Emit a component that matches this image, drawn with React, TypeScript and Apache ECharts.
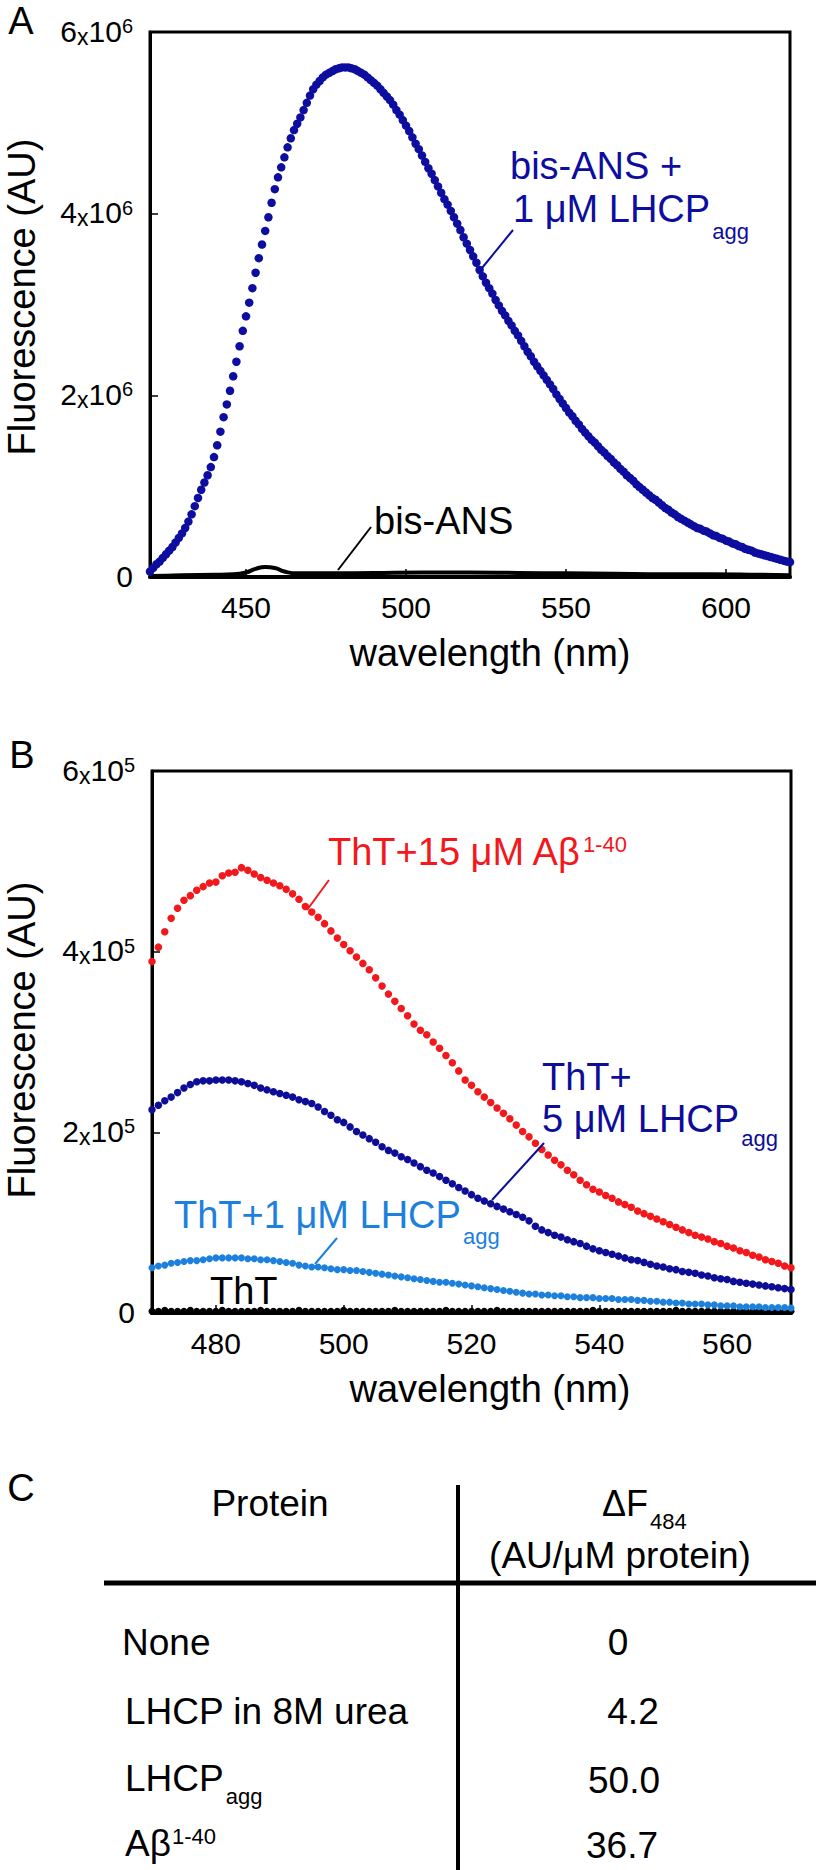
import React, { useEffect, useRef } from 'react';
import * as echarts from 'echarts';

const FONT = "'Liberation Sans', Arial, Helvetica, sans-serif";

// ---------- Panel A (values in 10^6 AU), wavelength 420..620 nm, 1 nm step ----------
const wlStartA = 420;
const bisAnsLhcp = [
  0.06, 0.10, 0.14, 0.17, 0.21, 0.25, 0.29, 0.33, 0.38, 0.43,
  0.48, 0.54, 0.61, 0.69, 0.78, 0.87, 0.96, 1.04, 1.12, 1.21,
  1.32, 1.45, 1.60, 1.76, 1.90, 2.05, 2.21, 2.37, 2.54, 2.71,
  2.87, 3.02, 3.18, 3.35, 3.51, 3.66, 3.81, 3.96, 4.12, 4.27,
  4.40, 4.51, 4.62, 4.73, 4.83, 4.92, 4.99, 5.06, 5.14, 5.22,
  5.30, 5.37, 5.42, 5.46, 5.50, 5.53, 5.55, 5.57, 5.59, 5.60,
  5.61, 5.61, 5.61, 5.60, 5.59, 5.57, 5.55, 5.53, 5.50, 5.47,
  5.44, 5.41, 5.37, 5.33, 5.29, 5.25, 5.20, 5.14, 5.09, 5.03,
  4.97, 4.91, 4.84, 4.77, 4.71, 4.64, 4.57, 4.50, 4.44, 4.37,
  4.30, 4.23, 4.16, 4.10, 4.03, 3.96, 3.89, 3.82, 3.74, 3.67,
  3.60, 3.53, 3.46, 3.38, 3.31, 3.24, 3.18, 3.12, 3.05, 2.99,
  2.93, 2.88, 2.82, 2.77, 2.71, 2.66, 2.60, 2.54, 2.48, 2.43,
  2.37, 2.32, 2.27, 2.22, 2.17, 2.12, 2.07, 2.01, 1.96, 1.91,
  1.86, 1.81, 1.77, 1.72, 1.68, 1.63, 1.59, 1.55, 1.51, 1.48,
  1.44, 1.40, 1.37, 1.33, 1.30, 1.26, 1.23, 1.19, 1.16, 1.12,
  1.09, 1.06, 1.02, 0.99, 0.96, 0.93, 0.90, 0.87, 0.85, 0.82,
  0.79, 0.76, 0.74, 0.71, 0.69, 0.66, 0.64, 0.62, 0.60, 0.58,
  0.56, 0.54, 0.53, 0.51, 0.50, 0.48, 0.46, 0.45, 0.43, 0.42,
  0.40, 0.39, 0.37, 0.36, 0.34, 0.33, 0.31, 0.30, 0.29, 0.27,
  0.26, 0.25, 0.24, 0.23, 0.22, 0.21, 0.20, 0.19, 0.18, 0.17,
  0.165,
];
const bisAnsWl = [420, 430, 440, 446, 450, 453, 456, 459, 462, 466, 475, 490, 505, 520, 535, 550, 565, 580, 595, 610, 620];
const bisAnsOnly = [0.01, 0.02, 0.025, 0.03, 0.05, 0.09, 0.11, 0.10, 0.06, 0.04, 0.04, 0.045, 0.05, 0.05, 0.045, 0.04, 0.035, 0.03, 0.03, 0.025, 0.02];
const xTicksA = [450, 500, 550, 600];

// ---------- Panel B (values in 10^5 AU), wavelength 470..570 nm, 1 nm step ----------
const wlStartB = 470;
const thtAbeta = [
  3.89, 4.05, 4.22, 4.37, 4.48, 4.57, 4.62, 4.68, 4.72, 4.76,
  4.77, 4.84, 4.87, 4.88, 4.93, 4.90, 4.86, 4.82, 4.79, 4.76,
  4.73, 4.69, 4.64, 4.58, 4.50, 4.44, 4.38, 4.31, 4.23, 4.15,
  4.08, 4.01, 3.94, 3.87, 3.80, 3.71, 3.62, 3.53, 3.45, 3.37,
  3.29, 3.20, 3.13, 3.08, 3.00, 2.93, 2.85, 2.77, 2.68, 2.58,
  2.52, 2.45, 2.39, 2.33, 2.27, 2.21, 2.15, 2.08, 2.01, 1.95,
  1.88, 1.81, 1.75, 1.69, 1.64, 1.58, 1.53, 1.47, 1.42, 1.37,
  1.34, 1.30, 1.27, 1.23, 1.20, 1.17, 1.13, 1.10, 1.07, 1.04,
  1.01, 0.98, 0.95, 0.92, 0.89, 0.86, 0.84, 0.82, 0.79, 0.77,
  0.74, 0.72, 0.69, 0.67, 0.64, 0.62, 0.59, 0.57, 0.55, 0.52,
  0.50,
];
const thtLhcp5 = [
  2.25, 2.30, 2.35, 2.39, 2.44, 2.49, 2.53, 2.56, 2.57, 2.57,
  2.58, 2.58, 2.58, 2.57, 2.56, 2.54, 2.52, 2.49, 2.47, 2.45,
  2.43, 2.41, 2.39, 2.36, 2.34, 2.32, 2.28, 2.23, 2.19, 2.14,
  2.11, 2.06, 2.01, 1.97, 1.93, 1.89, 1.84, 1.80, 1.77, 1.73,
  1.70, 1.66, 1.62, 1.58, 1.55, 1.51, 1.47, 1.43, 1.39, 1.35,
  1.31, 1.27, 1.24, 1.21, 1.18, 1.15, 1.12, 1.09, 1.06, 1.02,
  0.96, 0.92, 0.89, 0.86, 0.84, 0.81, 0.79, 0.77, 0.74, 0.71,
  0.69, 0.67, 0.65, 0.63, 0.61, 0.59, 0.58, 0.56, 0.54, 0.52,
  0.51, 0.49, 0.48, 0.46, 0.45, 0.44, 0.42, 0.41, 0.39, 0.38,
  0.37, 0.35, 0.34, 0.33, 0.32, 0.31, 0.30, 0.29, 0.28, 0.27,
  0.26,
];
const thtLhcp1 = [
  0.50, 0.52, 0.53, 0.55, 0.56, 0.57, 0.58, 0.58, 0.59, 0.60,
  0.61, 0.61, 0.61, 0.61, 0.61, 0.60, 0.60, 0.59, 0.59, 0.58,
  0.57, 0.56, 0.55, 0.53, 0.52, 0.51, 0.51, 0.50, 0.49, 0.48,
  0.48, 0.47, 0.47, 0.46, 0.45, 0.44, 0.43, 0.42, 0.41, 0.40,
  0.39, 0.38, 0.37, 0.36, 0.35, 0.34, 0.34, 0.33, 0.32, 0.31,
  0.30, 0.29, 0.28, 0.27, 0.26, 0.25, 0.24, 0.23, 0.22, 0.21,
  0.21, 0.20, 0.20, 0.19, 0.19, 0.18, 0.18, 0.17, 0.17, 0.17,
  0.16, 0.16, 0.16, 0.15, 0.15, 0.15, 0.14, 0.14, 0.13, 0.13,
  0.12, 0.12, 0.11, 0.11, 0.10, 0.10, 0.10, 0.09, 0.09, 0.08,
  0.08, 0.08, 0.07, 0.07, 0.07, 0.07, 0.06, 0.06, 0.06, 0.06,
  0.055,
];
const thtOnly = [
  0.02, 0.02, 0.03, 0.02, 0.02, 0.02, 0.03, 0.02, 0.02, 0.02,
  0.02, 0.03, 0.02, 0.02, 0.02, 0.02, 0.02, 0.03, 0.02, 0.02,
  0.02, 0.02, 0.02, 0.03, 0.02, 0.02, 0.02, 0.02, 0.02, 0.02,
  0.03, 0.02, 0.02, 0.02, 0.02, 0.02, 0.02, 0.02, 0.03, 0.02,
  0.02, 0.02, 0.02, 0.02, 0.02, 0.02, 0.03, 0.02, 0.02, 0.02,
  0.02, 0.02, 0.02, 0.02, 0.03, 0.02, 0.02, 0.02, 0.02, 0.02,
  0.02, 0.02, 0.02, 0.02, 0.02, 0.02, 0.02, 0.02, 0.02, 0.03,
  0.02, 0.02, 0.02, 0.02, 0.02, 0.02, 0.02, 0.02, 0.02, 0.02,
  0.02, 0.02, 0.03, 0.02, 0.02, 0.02, 0.02, 0.02, 0.02, 0.02,
  0.02, 0.02, 0.02, 0.02, 0.02, 0.02, 0.02, 0.02, 0.02, 0.02,
  0.02,
];
const xTicksB = [480, 500, 520, 540, 560];

// ---------- Panel C table ----------
const tableProteins = [
  { main: 'None', mark: '', kind: '' },
  { main: 'LHCP in 8M urea', mark: '', kind: '' },
  { main: 'LHCP', mark: 'agg', kind: 'sub' },
  { main: 'A\u03b2', mark: '1-40', kind: 'sup' },
];
const tableDeltaF = ['0', '4.2', '50.0', '36.7'];

// colours
const BLUE_A = '#0d0d9f';
const BLUE_B = '#0d0d98';
const RED = '#f2181c';
const LIGHT = '#1c80dc';

const toPairs = (start: number, vals: number[]) => vals.map((v, i) => [start + i, v]);

const yLabelFormatter = (exp: number) => (v: number) =>
  v === 0 ? '{m|0}' : `{m|${v}}{x|x}{m|10}{s|${exp}}`;
const yLabelRich = {
  m: { fontSize: 30, fontFamily: FONT, color: '#000', lineHeight: 32, verticalAlign: 'top' },
  x: { fontSize: 23, fontFamily: FONT, color: '#000', lineHeight: 26, verticalAlign: 'bottom' },
  s: { fontSize: 20, fontFamily: FONT, color: '#000', lineHeight: 18, verticalAlign: 'top' },
};

function txt(text: string, x: number, y: number, size: number, color: string, align = 'left', rot = 0) {
  return {
    type: 'text', x, y, rotation: rot, z: 100,
    style: {
      text, fontSize: size, fontFamily: FONT, fill: color,
      align, verticalAlign: 'middle', textAlign: align, textVerticalAlign: 'middle',
    },
  };
}

function subTxt(main: string, sub: string, x: number, cy: number, size: number, color: string, pad: number) {
  return {
    type: 'text', x, y: cy - 20, z: 100,
    style: {
      text: `{m|${main}}{b|${sub}}`,
      fontSize: size, fontFamily: FONT, fill: color,
      align: 'left', verticalAlign: 'top', textAlign: 'left', textVerticalAlign: 'top',
      rich: {
        m: { fontSize: size, fontFamily: FONT, fill: color, lineHeight: 40, verticalAlign: 'top' },
        b: { fontSize: 22, fontFamily: FONT, fill: color, lineHeight: 22, verticalAlign: 'top', padding: [pad, 0, 0, 2] },
      },
    },
  };
}

function supTxt(main: string, sup: string, x: number, cy: number, size: number, color: string, supLH: number) {
  return {
    type: 'text', x, y: cy - 20, z: 100,
    style: {
      text: `{m|${main}}{p|${sup}}`,
      fontSize: size, fontFamily: FONT, fill: color,
      align: 'left', verticalAlign: 'top', textAlign: 'left', textVerticalAlign: 'top',
      rich: {
        m: { fontSize: size, fontFamily: FONT, fill: color, lineHeight: 40, verticalAlign: 'top' },
        p: { fontSize: 22, fontFamily: FONT, fill: color, lineHeight: supLH, verticalAlign: 'top', padding: [0, 0, 0, 1] },
      },
    },
  };
}

function ln(x1: number, y1: number, x2: number, y2: number, color: string, w = 2) {
  return { type: 'line', z: 100, shape: { x1, y1, x2, y2 }, style: { stroke: color, lineWidth: w } };
}

export default function App() {
  const ref = useRef<HTMLDivElement>(null);

  useEffect(() => {
    if (!ref.current) return;
    const chart = echarts.init(ref.current, undefined, { renderer: 'svg' });

    const axisCommonX = (min: number, max: number, ticks: number[], grid: number) => ({
      gridIndex: grid, type: 'value', min, max,
      axisLine: { show: true, onZero: false, lineStyle: { color: '#000', width: 4 } },
      axisTick: { show: true, inside: true, length: 8, customValues: ticks, lineStyle: { color: '#000', width: 1.5 } },
      axisLabel: { customValues: ticks, margin: 15, fontSize: 30, fontFamily: FONT, color: '#000' },
      splitLine: { show: false },
    });
    const axisCommonY = (exp: number, grid: number) => ({
      gridIndex: grid, type: 'value', min: 0, max: 6, interval: 2,
      axisLine: { show: true, lineStyle: { color: '#000', width: 3 } },
      axisTick: { show: true, inside: true, length: 8, lineStyle: { color: '#000', width: 1.5 } },
      axisLabel: { margin: 17, formatter: yLabelFormatter(exp), rich: yLabelRich, fontSize: 30, fontFamily: FONT, color: '#000' },
      splitLine: { show: false },
    });

    const graphics: any[] = [];
    // panel letters
    graphics.push(txt('A', 21, 21, 38, '#000', 'center'));
    graphics.push(txt('B', 22, 755, 38, '#000', 'center'));
    graphics.push(txt('C', 21, 1488, 38, '#000', 'center'));
    // axis titles
    graphics.push(txt('Fluorescence (AU)', 22, 297, 38, '#000', 'center', Math.PI / 2));
    graphics.push(txt('wavelength (nm)', 490, 653, 38, '#000', 'center'));
    graphics.push(txt('Fluorescence (AU)', 22, 1040, 38, '#000', 'center', Math.PI / 2));
    graphics.push(txt('wavelength (nm)', 490, 1389, 38, '#000', 'center'));
    // panel A annotations
    graphics.push(txt('bis-ANS +', 510, 166, 38, BLUE_A));
    graphics.push(subTxt('1 \u03bcM LHCP', 'agg', 513, 210, 38, BLUE_A, 30));
    graphics.push(ln(513, 230, 482, 268, BLUE_A));
    graphics.push(txt('bis-ANS', 374, 521, 38, '#000'));
    graphics.push(ln(371, 527, 338, 570, '#000'));
    // panel B annotations
    graphics.push(supTxt('ThT+15 \u03bcM A\u03b2', '1-40', 328, 853, 38, RED, 31));
    graphics.push(ln(329, 880, 307, 910, RED));
    graphics.push(txt('ThT+', 542, 1077, 38, BLUE_B));
    graphics.push(subTxt('5 \u03bcM LHCP', 'agg', 542, 1120, 38, BLUE_B, 27));
    graphics.push(ln(544, 1143, 492, 1200, BLUE_B));
    graphics.push(subTxt('ThT+1 \u03bcM LHCP', 'agg', 174, 1216, 38, LIGHT, 29));
    graphics.push(ln(337, 1238, 315, 1264, LIGHT));
    graphics.push(txt('ThT', 210, 1291, 38, '#000'));
    // panel C table
    graphics.push(ln(458, 1485, 458, 1870, '#000', 4));
    graphics.push(ln(104, 1583, 816, 1583, '#000', 5));
    graphics.push(txt('Protein', 270, 1503, 37, '#000', 'center'));
    graphics.push(subTxt('\u0394F', '484', 602, 1505, 36, '#000', 25));
    graphics.push(txt('(AU/\u03bcM protein)', 620, 1555, 37, '#000', 'center'));
    const rowY = [1642, 1711, 1780, 1845];
    const valX = [618, 633, 624, 622];
    tableProteins.forEach((p, i) => {
      if (p.kind === 'sub') graphics.push(subTxt(p.main, p.mark, 125, rowY[i], 37, '#000', 25));
      else if (p.kind === 'sup') graphics.push(supTxt(p.main, p.mark, 125, rowY[i], 37, '#000', 20));
      else graphics.push(txt(p.main, i === 0 ? 122 : 125, rowY[i], 37, '#000'));
      graphics.push(txt(tableDeltaF[i], valX[i], rowY[i], 37, '#000', 'center'));
    });

    const option: any = {
      animation: false,
      backgroundColor: '#fff',
      grid: [
        { left: 150, top: 32, width: 640, height: 545, show: true, borderColor: '#000', borderWidth: 3, outerBoundsMode: 'none', containLabel: false },
        { left: 152, top: 771, width: 639, height: 542, show: true, borderColor: '#000', borderWidth: 3, outerBoundsMode: 'none', containLabel: false },
      ],
      xAxis: [axisCommonX(420, 620, xTicksA, 0), axisCommonX(470, 570, xTicksB, 1)],
      yAxis: [axisCommonY(6, 0), axisCommonY(5, 1)],
      series: [
        {
          name: 'bis-ANS', type: 'line', xAxisIndex: 0, yAxisIndex: 0, showSymbol: false,
          data: bisAnsWl.map((w, i) => [w, bisAnsOnly[i]]), smooth: true,
          lineStyle: { color: '#000', width: 4 }, z: 3,
        },
        {
          name: 'bis-ANS + 1 uM LHCPagg', type: 'scatter', xAxisIndex: 0, yAxisIndex: 0,
          data: toPairs(wlStartA, bisAnsLhcp), symbolSize: 8.5, itemStyle: { color: BLUE_A, opacity: 1 }, z: 4,
        },
        {
          name: 'ThT', type: 'scatter', xAxisIndex: 1, yAxisIndex: 1,
          data: toPairs(wlStartB, thtOnly), symbolSize: 7, itemStyle: { color: '#000', opacity: 1 }, z: 3,
        },
        {
          name: 'ThT+1 uM LHCPagg', type: 'scatter', xAxisIndex: 1, yAxisIndex: 1,
          data: toPairs(wlStartB, thtLhcp1), symbolSize: 7, itemStyle: { color: LIGHT, opacity: 1 }, z: 4,
        },
        {
          name: 'ThT+5 uM LHCPagg', type: 'scatter', xAxisIndex: 1, yAxisIndex: 1,
          data: toPairs(wlStartB, thtLhcp5), symbolSize: 7.5, itemStyle: { color: BLUE_B, opacity: 1 }, z: 4,
        },
        {
          name: 'ThT+15 uM Abeta1-40', type: 'scatter', xAxisIndex: 1, yAxisIndex: 1,
          data: toPairs(wlStartB, thtAbeta), symbolSize: 7.5, itemStyle: { color: RED, opacity: 1 }, z: 4,
        },
      ],
      graphic: graphics,
    };
    chart.setOption(option);
    return () => chart.dispose();
  }, []);

  return (
    <div
      ref={ref}
      style={{ position: 'absolute', left: 0, top: 0, width: 816, height: 1870, background: '#fff' }}
    />
  );
}
